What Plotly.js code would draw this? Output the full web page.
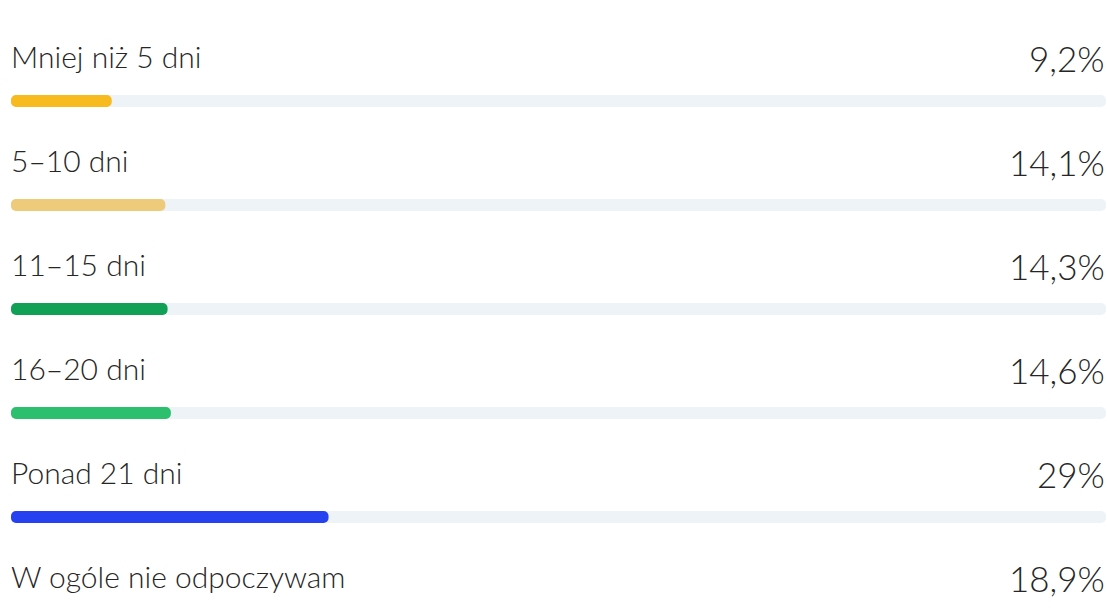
<!DOCTYPE html>
<html>
<head>
<meta charset="utf-8">
<script src="https://cdn.plot.ly/plotly-3.0.1.min.js"></script>
<style>
html,body{margin:0;padding:0;background:#fff;overflow:hidden;}
#chart{width:1107px;height:650px;}
</style>
</head>
<body>
<div id="chart"></div>
<script>
const categories = ["Mniej niż 5 dni", "5–10 dni", "11–15 dni", "16–20 dni", "Ponad 21 dni", "W ogóle nie odpoczywam"];
const values = [9.2, 14.1, 14.3, 14.6, 29, 18.9];
const valueLabels = ["9,2%", "14,1%", "14,3%", "14,6%", "29%", "18,9%"];
const barColors = ["#F7BA1F", "#EECB7B", "#10A157", "#2CBF6E", "#2541F0", "#9B59B6"];
const trackMax = 100;

const FONT = "Lato, 'Noto Sans', sans-serif";
const TEXT = "#262626";
const H = 650;
const rowPx = 104, firstPx = 101;
const yIdx = categories.map((_, i) => i);
const BW = 0.115;

const traces = [
  {type: "bar", orientation: "h", base: categories.map(() => 0), x: categories.map(() => trackMax), y: yIdx, width: BW,
   marker: {color: "#EEF3F8", cornerradius: 6, line: {width: 0}}, hoverinfo: "skip"},
  {type: "bar", orientation: "h", base: categories.map(() => 0), x: values, y: yIdx, width: BW,
   marker: {color: barColors, cornerradius: 6, line: {width: 0}}, hoverinfo: "skip"}
];

const annotations = [];
categories.forEach((c, i) => {
  annotations.push({
    x: 0, y: i, xref: "x", yref: "y", xanchor: "left", yanchor: "middle",
    xshift: -2, yshift: 45, text: c, showarrow: false,
    font: {family: FONT, size: 30, color: TEXT, weight: 300}
  });
  annotations.push({
    x: trackMax, y: i, xref: "x", yref: "y", xanchor: "right", yanchor: "middle",
    xshift: 1, yshift: 43, text: valueLabels[i], showarrow: false,
    font: {family: FONT, size: 35, color: TEXT, weight: 300}
  });
});

const layout = {
  width: 1107, height: H,
  margin: {l: 11, r: 1, t: 0, b: 0, pad: 0},
  paper_bgcolor: "#fff", plot_bgcolor: "#fff",
  barmode: "overlay",
  barcornerradius: 6,
  showlegend: false,
  xaxis: {range: [0, trackMax], visible: false, fixedrange: true},
  yaxis: {range: [(H - firstPx) / rowPx, -firstPx / rowPx], visible: false, fixedrange: true},
  annotations: annotations
};

Plotly.newPlot("chart", traces, layout, {displayModeBar: false, staticPlot: true});
</script>
</body>
</html>
